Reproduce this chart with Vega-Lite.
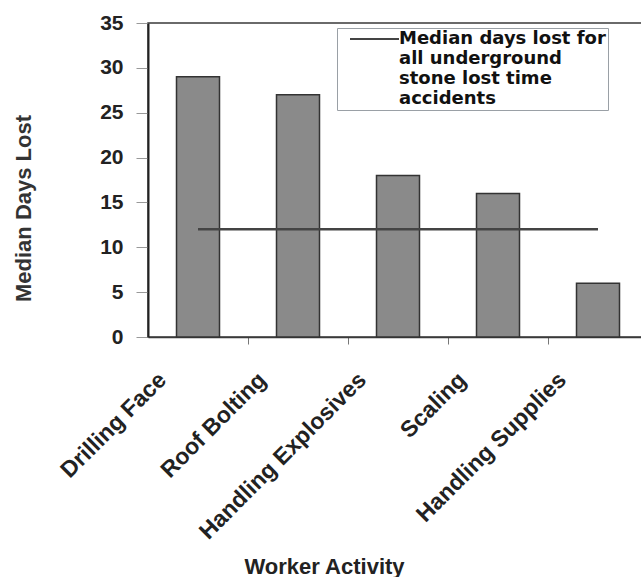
{
  "$schema": "https://vega.github.io/schema/vega-lite/v6.json",
  "width": 500,
  "height": 314,
  "autosize": {"type": "none"},
  "padding": {"left": 148, "top": 23, "right": 0, "bottom": 240},
  "background": "white",
  "config": {
    "font": "Liberation Sans",
    "view": {"stroke": "#3a3a3a", "strokeWidth": 1.5}
  },
  "datasets": {
    "bars": [
      {"activity": "Drilling Face", "days": 29},
      {"activity": "Roof Bolting", "days": 27},
      {"activity": "Handling Explosives", "days": 18},
      {"activity": "Scaling", "days": 16},
      {"activity": "Handling Supplies", "days": 6}
    ],
    "median": [
      {"from": "Drilling Face", "to": "Handling Supplies", "days": 12, "series": "Median days lost for all underground stone lost time accidents"}
    ]
  },
  "layer": [
    {
      "data": {"name": "bars"},
      "mark": {"type": "bar", "fill": "#8a8a8a", "stroke": "#333333", "strokeWidth": 1.5},
      "encoding": {
        "x": {
          "field": "activity",
          "type": "nominal",
          "sort": null,
          "scale": {
            "domain": ["Drilling Face", "Roof Bolting", "Handling Explosives", "Scaling", "Handling Supplies"],
            "paddingInner": 0.57,
            "paddingOuter": 0.285
          },
          "axis": {
            "title": "Worker Activity",
            "titleFontSize": 22,
            "titleFontWeight": "bold",
            "titleColor": "#222222",
            "titleX": 176,
            "titleY": 236,
            "titleAlign": "center",
            "titleBaseline": "alphabetic",
            "labelAngle": -45,
            "labelAlign": "right",
            "labelBaseline": "middle",
            "tickOffset": 50,
            "labelOffset": -86,
            "labelPadding": 32,
            "labelFontSize": 23,
            "labelFontWeight": "bold",
            "labelColor": "#222222",
            "labelLimit": 400,
            "labelOverlap": false,
            "tickSize": 7,
            "tickColor": "#777777",
            "domainColor": "#3a3a3a",
            "domainWidth": 1.5
          }
        },
        "y": {
          "field": "days",
          "type": "quantitative",
          "scale": {"domain": [0, 35]},
          "axis": {
            "title": "Median Days Lost",
            "titleFontSize": 22,
            "titleFontWeight": "bold",
            "titleColor": "#333333",
            "titleX": -125,
            "titleY": 185,
            "titleAlign": "center",
            "titleBaseline": "middle",
            "titleAngle": -90,
            "values": [0, 5, 10, 15, 20, 25, 30, 35],
            "labelFontSize": 21,
            "labelFontWeight": "bold",
            "labelColor": "#222222",
            "labelPadding": 13,
            "tickSize": 12,
            "tickColor": "#999999",
            "domainColor": "#222222",
            "domainWidth": 2,
            "grid": false
          }
        }
      }
    },
    {
      "data": {"name": "median"},
      "mark": {"type": "rule", "strokeWidth": 2.5},
      "encoding": {
        "x": {"field": "from", "type": "nominal"},
        "x2": {"field": "to"},
        "y": {"field": "days", "type": "quantitative"},
        "color": {
          "field": "series",
          "type": "nominal",
          "scale": {"range": ["#444444"]},
          "legend": {
            "orient": "none",
            "legendX": 189,
            "legendY": 5,
            "title": null,
            "symbolType": "M-9.8,0H0",
            "symbolSize": 100,
            "symbolStrokeWidth": 2,
            "symbolFillColor": "transparent",
            "labelExpr": "['Median days lost for', 'all underground', 'stone lost time', 'accidents']",
            "labelFont": "DejaVu Sans",
            "labelFontSize": 18,
            "labelFontWeight": "bold",
            "labelColor": "#111111",
            "labelLimit": 400,
            "strokeColor": "#9aa0a6",
            "padding": 2,
            "symbolOffset": 51,
            "labelOffset": -9
          }
        }
      }
    }
  ]
}
